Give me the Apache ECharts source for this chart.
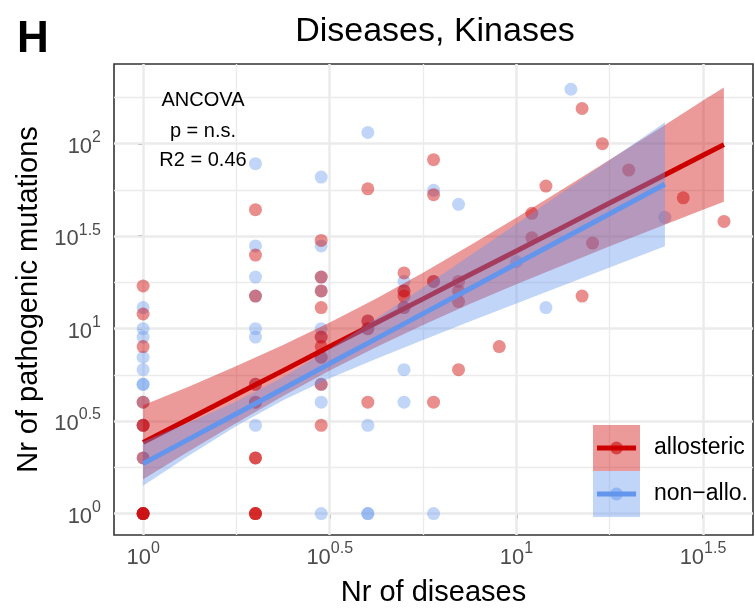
<!DOCTYPE html>
<html><head><meta charset="utf-8">
<script src="https://cdn.jsdelivr.net/npm/echarts@6/dist/echarts.min.js"></script>
<style>html,body{margin:0;padding:0;background:#fff}#c{width:755px;height:610px}</style>
</head><body><div id="c"></div>
<script>
// ---- data ----
// allosteric: number of diseases / number of pathogenic mutations
const alloDiseases  = [1,1,1,1,1,1,1,1,1,1,1, 2,2,2,2,2,2,2,2,2,2, 3,3,3,3,3,3,3,3,3, 4,4,4,4, 5,5,5,5, 6,6,6,6, 7,7,7,7, 9, 11,11, 12, 15,15, 16, 17, 20, 28, 36];
const alloMutations = [17,12,8,4,3,3,2,1,1,1,1, 44,25,15,5,4,2,2,1,1,1, 30,19,16,13,9,8,7,5,3, 57,11,10,4, 20,16,15,13, 82,53,18,4, 18,16,14,6, 8, 42,31, 59, 155,15, 29, 100, 72, 51, 38];
// non-allosteric
const nonAlloDiseases  = [1,1,1,1,1,1,1,1,1,1,1, 2,2,2,2,2,2,2,2,2, 3,3,3,3,3,3,3,3,3,3, 4,4,4,4,4,4, 5,5,5,5,5, 6,6,6, 7, 10, 12, 14, 25];
const nonAlloMutations = [13,10,9,7,6,5,5,4,3,2,1, 78,28,19,15,10,9,5,4,3, 66,28,19,16,10,9,7,5,4,1, 115,11,10,3,1,1, 18,16,13,6,4, 56,18,1, 47, 23, 13, 197, 40];

// fitted lines with 95% bands, in log10 units (log10 diseases -> log10 mutations)
const alloFitLogX = [0,0.125,0.25,0.375,0.5,0.625,0.75,0.875,1.0,1.125,1.25,1.375,1.5,1.556];
const alloFit     = [0.385,0.514,0.644,0.773,0.903,1.032,1.161,1.291,1.420,1.549,1.679,1.808,1.938,1.995];
const alloLo      = [0.185,0.339,0.490,0.635,0.773,0.901,1.020,1.133,1.240,1.343,1.445,1.544,1.643,1.686];
const alloHi      = [0.585,0.689,0.798,0.911,1.033,1.163,1.302,1.449,1.600,1.755,1.913,2.072,2.233,2.304];
const nonFitLogX  = [0,0.125,0.25,0.375,0.5,0.625,0.75,0.875,1.0,1.125,1.25,1.375,1.398];
const nonFit      = [0.270,0.405,0.540,0.675,0.811,0.946,1.081,1.216,1.351,1.486,1.621,1.756,1.781];
const nonLo       = [0.150,0.316,0.474,0.613,0.731,0.837,0.939,1.038,1.136,1.233,1.331,1.428,1.446];
const nonHi       = [0.390,0.494,0.606,0.737,0.891,1.055,1.223,1.394,1.566,1.739,1.911,2.084,2.116];

// axis tick exponents
const xTickExp = [0, 0.5, 1, 1.5];
const yTickExp = [0, 0.5, 1, 1.5, 2];
const xMinorExp = [0.25, 0.75, 1.25];
const yMinorExp = [0.25, 0.75, 1.25, 1.75, 2.25];

const FONT = '"Liberation Sans", Arial, Helvetica, sans-serif';
const RED = 'rgb(205,0,0)', BLUE = 'rgb(100,149,237)';
const RED_PT = 'rgba(205,0,0,0.56)', BLUE_PT = 'rgba(100,149,237,0.5)';
const RED_BAND = 'rgba(205,0,0,0.4)', BLUE_BAND = 'rgba(100,149,237,0.4)';

const pts = (xs, ys) => xs.map((d, i) => [Math.log10(d), Math.log10(ys[i])]);
const line = (xs, ys) => xs.map((x, i) => [x, ys[i]]);

function bandSeries(xs, lo, hi, color, z) {
  return {
    type: 'custom', z: z, silent: true, clip: true,
    data: xs.map((x, i) => [x, lo[i], hi[i]]),
    encode: {x: 0, y: [1, 2]},
    renderItem: function (params, api) {
      if (params.dataIndex !== 0) return null;
      const poly = [];
      for (let i = 0; i < xs.length; i++) poly.push(api.coord([xs[i], hi[i]]));
      for (let i = xs.length - 1; i >= 0; i--) poly.push(api.coord([xs[i], lo[i]]));
      return {type: 'polygon', shape: {points: poly}, style: {fill: color}};
    }
  };
}

const labelRich = {
  b: {fontSize: 22, color: '#4d4d4d', fontFamily: FONT, verticalAlign: 'bottom'},
  s: {fontSize: 16, color: '#4d4d4d', fontFamily: FONT, verticalAlign: 'bottom', padding: [0, 0, 12, 0]}
};
const expLabel = v => '{b|10}{s|' + String(v) + '}';

const gridLines = [];
xTickExp.forEach(v => gridLines.push({xAxis: v, lineStyle: {width: 2.5}}));
yTickExp.forEach(v => gridLines.push({yAxis: v, lineStyle: {width: 2.5}}));
xMinorExp.forEach(v => gridLines.push({xAxis: v, lineStyle: {width: 1.3}}));
yMinorExp.forEach(v => gridLines.push({yAxis: v, lineStyle: {width: 1.3}}));

const chart = echarts.init(document.getElementById('c'), null, {renderer: 'canvas'});
chart.setOption({
  animation: false,
  backgroundColor: '#fff',
  textStyle: {fontFamily: FONT},
  grid: {left: 114, right: 2, top: 64, bottom: 75, show: true, borderColor: '#333', borderWidth: 1.6,
         backgroundColor: '#fff', containLabel: false, outerBoundsMode: 'none'},
  xAxis: {
    type: 'value', min: -0.078, max: 1.634,
    axisLine: {show: false},
    axisTick: {show: true, length: 5, customValues: xTickExp, lineStyle: {color: '#333', width: 1.6}},
    axisLabel: {customValues: xTickExp, formatter: expLabel, rich: labelRich, margin: 6},
    splitLine: {show: false},
    name: 'Nr of diseases', nameLocation: 'middle', nameGap: 43,
    nameTextStyle: {fontSize: 29, color: '#000', fontFamily: FONT}
  },
  yAxis: {
    type: 'value', min: -0.116, max: 2.431,
    axisLine: {show: false},
    axisTick: {show: true, length: 5, customValues: yTickExp, lineStyle: {color: '#333', width: 1.6}},
    axisLabel: {customValues: yTickExp, formatter: expLabel, rich: labelRich, margin: 13},
    splitLine: {show: false},
    name: 'Nr of pathogenic mutations', nameLocation: 'middle', nameRotate: 90, nameGap: 69,
    nameTextStyle: {fontSize: 29, color: '#000', fontFamily: FONT}
  },
  series: [
    {type: 'scatter', z: 2, data: pts(nonAlloDiseases, nonAlloMutations), symbolSize: 13,
     itemStyle: {color: BLUE_PT}, silent: true,
     markLine: {silent: true, z: 1, symbol: ['none', 'none'], label: {show: false},
                lineStyle: {color: '#ebebeb', type: 'solid'}, data: gridLines}},
    {type: 'scatter', z: 3, data: pts(alloDiseases, alloMutations), symbolSize: 13,
     itemStyle: {color: RED_PT}, silent: true},
    bandSeries(alloFitLogX, alloLo, alloHi, RED_BAND, 4),
    {type: 'line', z: 5, data: line(alloFitLogX, alloFit), showSymbol: false, symbol: 'none',
     lineStyle: {color: RED, width: 5}, silent: true},
    bandSeries(nonFitLogX, nonLo, nonHi, BLUE_BAND, 6),
    {type: 'line', z: 7, data: line(nonFitLogX, nonFit), showSymbol: false, symbol: 'none',
     lineStyle: {color: BLUE, width: 5}, silent: true}
  ],
  graphic: [
    {type: 'text', left: 17, top: 18, style: {text: 'H', fontSize: 44, fontWeight: 'bold', fill: '#000', fontFamily: FONT}},
    {type: 'text', x: 435, y: 32, style: {text: 'Diseases, Kinases', fontSize: 34, fill: '#000', fontFamily: FONT, align: 'center', verticalAlign: 'middle'}},
    {type: 'text', x: 203, y: 100, z: 10, style: {text: 'ANCOVA', fontSize: 20, fill: '#000', fontFamily: FONT, align: 'center', verticalAlign: 'middle'}},
    {type: 'text', x: 203, y: 131, z: 10, style: {text: 'p = n.s.', fontSize: 20, fill: '#000', fontFamily: FONT, align: 'center', verticalAlign: 'middle'}},
    {type: 'text', x: 203, y: 160, z: 10, style: {text: 'R2 = 0.46', fontSize: 20, fill: '#000', fontFamily: FONT, align: 'center', verticalAlign: 'middle'}},
    // legend
    {type: 'rect', z: 10, shape: {x: 593, y: 425, width: 47, height: 46}, style: {fill: RED_BAND}},
    {type: 'circle', z: 11, shape: {cx: 616.5, cy: 448, r: 6.5}, style: {fill: RED_PT}},
    {type: 'line', z: 12, shape: {x1: 597, y1: 448, x2: 636, y2: 448}, style: {stroke: RED, lineWidth: 5}},
    {type: 'rect', z: 10, shape: {x: 593, y: 471, width: 47, height: 46}, style: {fill: BLUE_BAND}},
    {type: 'circle', z: 11, shape: {cx: 616.5, cy: 494, r: 6.5}, style: {fill: BLUE_PT}},
    {type: 'line', z: 12, shape: {x1: 597, y1: 494, x2: 636, y2: 494}, style: {stroke: BLUE, lineWidth: 5}},
    {type: 'text', x: 654, y: 448, z: 12, style: {text: 'allosteric', fontSize: 23, fill: '#000', fontFamily: FONT, verticalAlign: 'middle'}},
    {type: 'text', x: 654, y: 494, z: 12, style: {text: 'non\u2212allo.', fontSize: 23, fill: '#000', fontFamily: FONT, verticalAlign: 'middle'}}
  ]
});
</script></body></html>
